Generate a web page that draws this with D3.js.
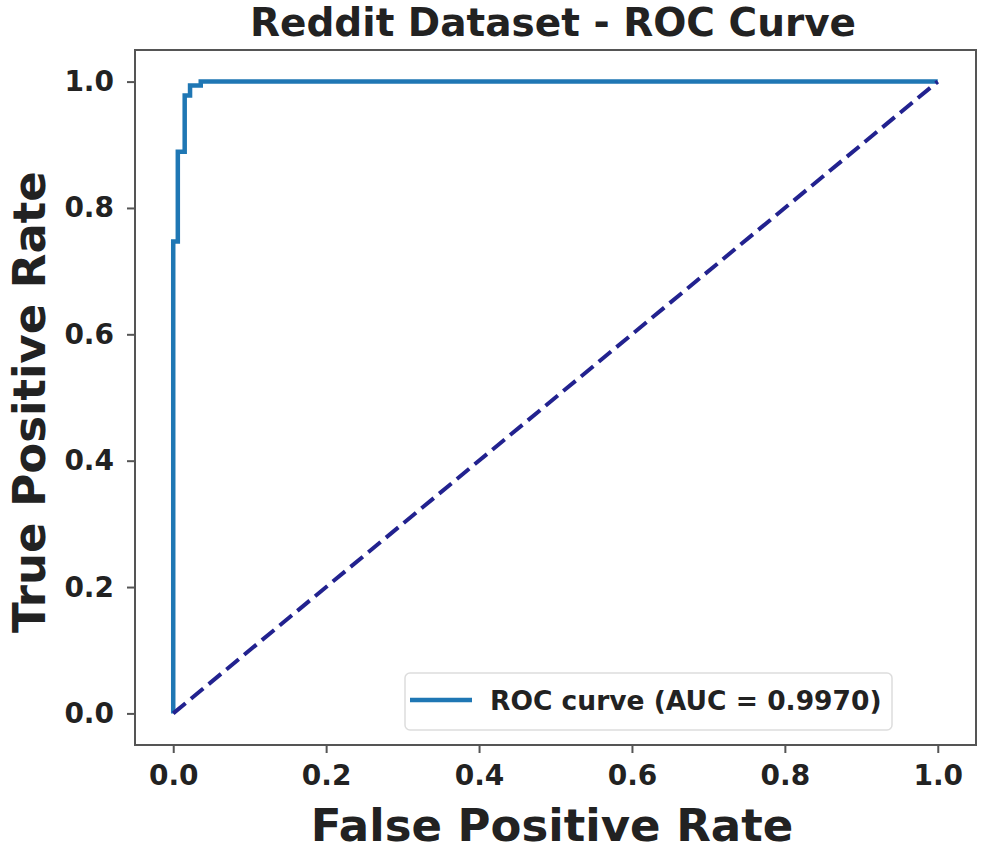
<!DOCTYPE html>
<html><head><meta charset="utf-8">
<script src="https://cdn.jsdelivr.net/npm/d3@7"></script>
<style>body{margin:0;background:#fff;} svg{display:block;} text{font-family:"DejaVu Sans",sans-serif;font-weight:bold;fill:#222;}</style>
</head><body>
<svg id="c" width="985" height="851"></svg>
<script>
const fpr = [0, 0, 0.006, 0.006, 0.015, 0.015, 0.022, 0.022, 0.036, 0.036, 1.0];
const tpr = [0, 0.747, 0.747, 0.889, 0.889, 0.978, 0.978, 0.994, 0.994, 1.0, 1.0];
const diagX = [0, 1];
const diagY = [0, 1];
const xTicks = [0.0, 0.2, 0.4, 0.6, 0.8, 1.0];
const yTicks = [0.0, 0.2, 0.4, 0.6, 0.8, 1.0];
const title = "Reddit Dataset - ROC Curve";
const xLabel = "False Positive Rate";
const yLabel = "True Positive Rate";
const legendLabel = "ROC curve (AUC = 0.9970)";

const svg = d3.select("#c");
const L = 135, R = 976, T = 50, B = 745;
const x = d3.scaleLinear().domain([-0.05, 1.05]).range([L, R]);
const y = d3.scaleLinear().domain([-0.05, 1.05]).range([B, T]);

const line = d3.line().x(d => x(d[0])).y(d => y(d[1]));

// curves
svg.append("path").datum(fpr.map((f, i) => [f, tpr[i]]))
  .attr("d", line).attr("fill", "none").attr("stroke", "#1f77b4")
  .attr("stroke-width", 4.5).attr("stroke-linejoin", "miter");
svg.append("path").datum(diagX.map((f, i) => [f, diagY[i]]))
  .attr("d", line).attr("fill", "none").attr("stroke", "#22228f")
  .attr("stroke-width", 4).attr("stroke-dasharray", "16,7");

// spines
svg.append("rect").attr("x", L).attr("y", T).attr("width", R - L).attr("height", B - T)
  .attr("fill", "none").attr("stroke", "#555").attr("stroke-width", 2);

// axes
const xa = svg.append("g").attr("transform", `translate(0,${B})`)
  .call(d3.axisBottom(x).tickValues(xTicks).tickFormat(d3.format(".1f")).tickSize(8).tickPadding(12));
const ya = svg.append("g").attr("transform", `translate(${L},0)`)
  .call(d3.axisLeft(y).tickValues(yTicks).tickFormat(d3.format(".1f")).tickSize(8).tickPadding(13));
[xa, ya].forEach(a => {
  a.select(".domain").remove();
  a.selectAll(".tick line").attr("stroke", "#555").attr("stroke-width", 2);
  a.selectAll(".tick text").style("font-size", "28px").style("font-family", "DejaVu Sans").style("font-weight", "bold").attr("fill", "#222");
});

// title & labels
svg.append("text").attr("x", 553).attr("y", 36).attr("text-anchor", "middle")
  .style("font-size", "39px").text(title);
svg.append("text").attr("x", 552).attr("y", 841).attr("text-anchor", "middle")
  .style("font-size", "45px").text(xLabel);
svg.append("text").attr("transform", `translate(45,402) rotate(-90)`).attr("text-anchor", "middle")
  .style("font-size", "45px").text(yLabel);

// legend
const lg = svg.append("g");
lg.append("rect").attr("x", 405).attr("y", 673).attr("width", 487).attr("height", 57).attr("rx", 5)
  .attr("fill", "#fff").attr("fill-opacity", 0.8).attr("stroke", "#ddd").attr("stroke-width", 1.5);
lg.append("line").attr("x1", 410).attr("x2", 472).attr("y1", 700).attr("y2", 700)
  .attr("stroke", "#1f77b4").attr("stroke-width", 4.5);
lg.append("text").attr("x", 490).attr("y", 710).style("font-size", "26.5px").text(legendLabel);
</script>
</body></html>
